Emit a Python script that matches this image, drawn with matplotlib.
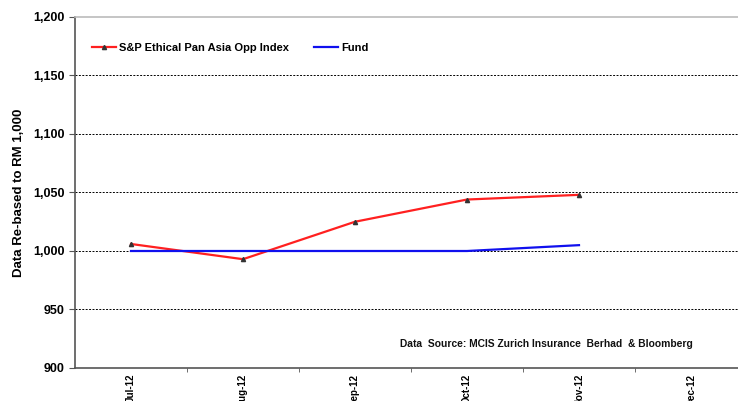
import numpy as np
import matplotlib.pyplot as plt
from matplotlib.ticker import FuncFormatter, MultipleLocator

months = ['Jul-12', 'Aug-12', 'Sep-12', 'Oct-12', 'Nov-12', 'Dec-12']
index_vals = [1006, 993, 1025, 1044, 1048]
fund_vals = [1000, 1000, 1000, 1000, 1005]

plt.rcParams['font.family'] = ['Liberation Sans', 'DejaVu Sans']

fig = plt.figure(figsize=(7.38, 4.01), dpi=100)
# axes spans a bit past the right edge, like the original
ax = fig.add_axes([75 / 738, 33 / 401, 672 / 738, 351 / 401])

x = np.arange(len(index_vals))
ax.plot(x, index_vals, color='#ff2020', lw=1.6, marker='^', ms=3,
        mfc='#333333', mec='#333333', label='S&P Ethical Pan Asia Opp Index')
ax.plot(np.arange(len(fund_vals)), fund_vals, color='#1010ee', lw=1.6, label='Fund')

ax.set_xlim(-0.5, len(months) - 0.5)
ax.set_ylim(900, 1200)
ax.yaxis.set_major_locator(MultipleLocator(50))
ax.yaxis.set_major_formatter(FuncFormatter(lambda v, p: f'{int(v):,}'))
for v in range(950, 1200, 50):
    ax.axhline(v, color='black', lw=0.7, ls=(0, (2, 1.5)), zorder=0)

ax.set_xticks(range(len(months)))
ax.set_xticklabels(months, rotation=90, va='top', ha='center', fontsize=7, fontweight='bold')
ax.set_xticks(np.arange(0.5, len(months) - 0.5, 1), minor=True)
ax.tick_params(axis='x', which='major', length=0, pad=4)
ax.tick_params(axis='x', which='minor', length=3, direction='out', color='#555555')
ax.tick_params(axis='y', length=4, direction='out', color='#555555', labelsize=9)
for lbl in ax.get_yticklabels():
    lbl.set_fontweight('bold')

for s in ['left', 'bottom']:
    ax.spines[s].set_color('#555555')
    ax.spines[s].set_linewidth(1.2)
ax.spines['top'].set_color('#bbbbbb')
ax.spines['top'].set_linewidth(1.2)
ax.spines['right'].set_visible(False)

ax.set_ylabel('Data Re-based to RM 1,000', fontsize=9.5, fontweight='bold', labelpad=6)

ax.legend(loc='upper left', bbox_to_anchor=(0.01, 0.955), ncol=2, frameon=False,
          handlelength=2.2, handletextpad=0.3, columnspacing=2.2,
          prop={'weight': 'bold', 'size': 8})

fig.text(400 / 738, 1 - 344 / 401,
         'Data  Source: MCIS Zurich Insurance  Berhad  & Bloomberg',
         fontsize=7.4, fontweight='bold', va='center', color='#111111')

fig.savefig('out.png', dpi=100)
